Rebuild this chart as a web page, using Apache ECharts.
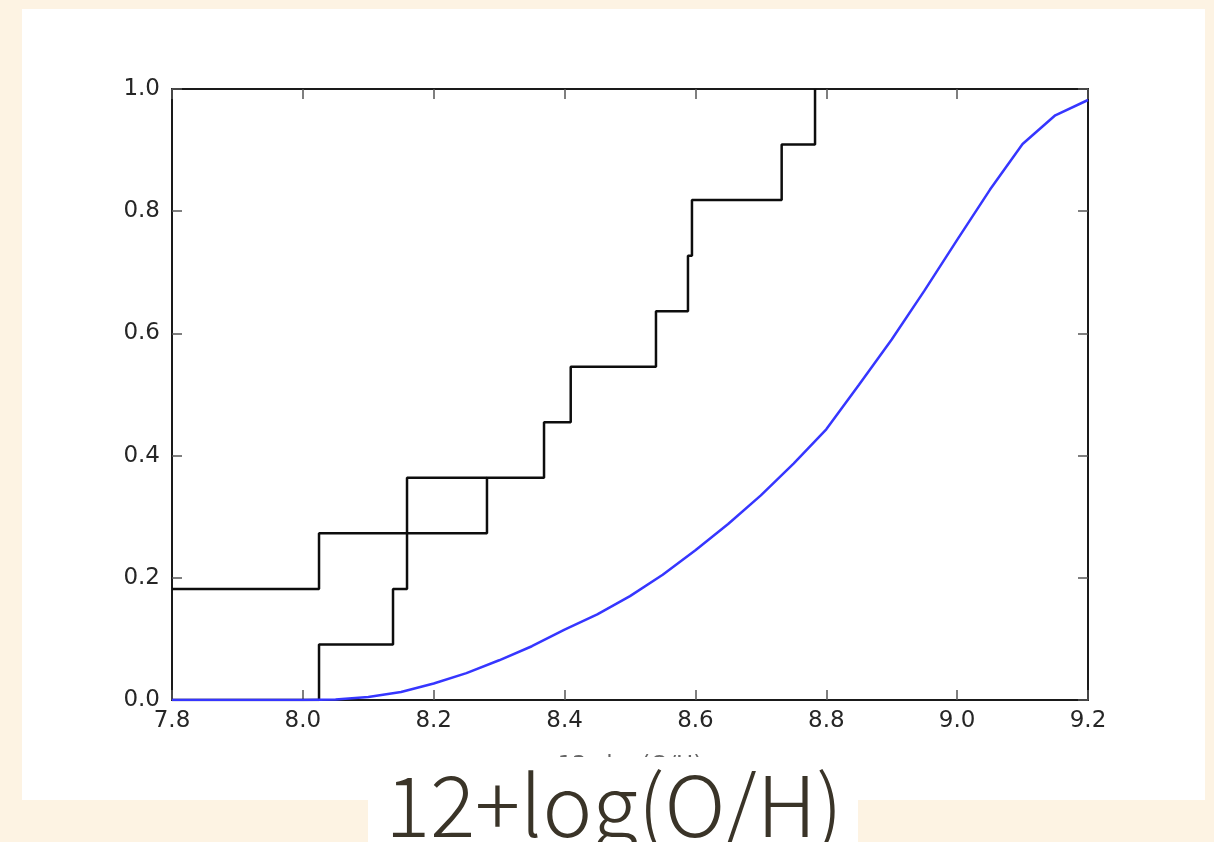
<!DOCTYPE html>
<html>
<head>
<meta charset="utf-8">
<script src="https://cdn.jsdelivr.net/npm/echarts@6/dist/echarts.min.js"></script>
<style>
  html, body { margin: 0; padding: 0; width: 1214px; height: 842px; background: #fdf3e3; overflow: hidden; }
  #panel { position: absolute; left: 22px; top: 9px; width: 1183px; height: 791px; background: #ffffff; }
  #chart { position: absolute; left: 0; top: 0; width: 1214px; height: 842px; }
</style>
</head>
<body>
<div id="panel"></div>
<div id="chart"></div>
<script>
// Step CDF A: x where each step happens, cumulative fraction after the step
const stepAX = [7.8, 8.0247, 8.2814, 8.3686, 8.4094, 8.5397, 8.5886, 8.5947, 8.7318, 8.7828];
const stepAY = [2/11, 3/11, 4/11, 5/11, 6/11, 7/11, 8/11, 9/11, 10/11, 11/11];
// Step CDF B
const stepBX = [7.8, 8.0247, 8.1378, 8.1592, 8.1592, 8.2814];
const stepBY = [0, 1/11, 2/11, 3/11, 4/11, 4/11];
// Smooth model CDF (blue)
const curveX = [7.8, 7.9, 8.0, 8.05, 8.1, 8.15, 8.2, 8.25, 8.3, 8.35, 8.4, 8.45, 8.5, 8.55, 8.6, 8.65, 8.7, 8.75, 8.8, 8.85, 8.9, 8.95, 9.0, 9.05, 9.1, 9.15, 9.2];
const curveY = [0, 0, 0, 0.001, 0.005, 0.013, 0.027, 0.044, 0.065, 0.088, 0.115, 0.14, 0.17, 0.205, 0.245, 0.288, 0.335, 0.387, 0.443, 0.516, 0.59, 0.67, 0.753, 0.835, 0.91, 0.957, 0.982];
const xTickLabels = ['7.8', '8.0', '8.2', '8.4', '8.6', '8.8', '9.0', '9.2'];
const yTickLabels = ['0.0', '0.2', '0.4', '0.6', '0.8', '1.0'];
const xLabel = '12+log(O/H)';

const zip = (xs, ys) => xs.map((x, i) => [x, ys[i]]);
const chart = echarts.init(document.getElementById('chart'), null, { renderer: 'canvas' });

const frameLine = { show: true, onZero: false, lineStyle: { color: '#1a1a1a', width: 2 } };
const tick = { show: true, inside: true, length: 10, lineStyle: { color: '#555', width: 1.5 } };
const lblFont = { fontFamily: 'DejaVu Sans', fontSize: 23, color: '#262626' };

const option = {
  animation: false,
  backgroundColor: 'transparent',
  grid: { left: 172, right: 126, top: 89, bottom: 142, containLabel: false },
  xAxis: [
    {
      type: 'value', position: 'bottom', min: 7.8, max: 9.2, interval: 0.2,
      axisLine: frameLine, axisTick: tick, splitLine: { show: false },
      axisLabel: Object.assign({ margin: 10, formatter: v => xTickLabels[Math.round((v - 7.8) / 0.2)] }, lblFont),
      name: xLabel, nameLocation: 'middle', nameGap: 55,
      nameTextStyle: { fontFamily: 'DejaVu Sans', fontSize: 23, color: '#666' }
    },
    {
      type: 'value', position: 'top', min: 7.8, max: 9.2, interval: 0.2,
      axisLine: frameLine, axisTick: tick, splitLine: { show: false }, axisLabel: { show: false }
    }
  ],
  yAxis: [
    {
      type: 'value', position: 'left', min: 0, max: 1, interval: 0.2,
      axisLine: frameLine, axisTick: tick, splitLine: { show: false },
      axisLabel: Object.assign({ margin: 12, formatter: v => yTickLabels[Math.round(v / 0.2)] }, lblFont)
    },
    {
      type: 'value', position: 'right', min: 0, max: 1, interval: 0.2,
      axisLine: frameLine, axisTick: tick, splitLine: { show: false }, axisLabel: { show: false }
    }
  ],
  series: [
    {
      type: 'line', step: 'end', data: zip(stepAX, stepAY), showSymbol: false, symbol: 'none',
      lineStyle: { color: '#0d0d0d', width: 2.5 }, z: 3
    },
    {
      type: 'line', step: 'end', data: zip(stepBX, stepBY), showSymbol: false, symbol: 'none',
      lineStyle: { color: '#0d0d0d', width: 2.5 }, z: 3
    },
    {
      type: 'line', data: zip(curveX, curveY), showSymbol: false, symbol: 'none',
      lineStyle: { color: '#3636ff', width: 2.5 }, z: 4
    }
  ],
  graphic: {
    elements: [
      { type: 'rect', z: 100, shape: { x: 368, y: 757, width: 490, height: 90 }, style: { fill: '#ffffff' } },
      { type: 'text', z: 101, x: 614, y: 805,
        style: { text: xLabel, font: '300 84px "Noto Sans CJK JP", "Noto Sans", sans-serif', fill: '#3a3428', textAlign: 'center', textVerticalAlign: 'middle' } }
    ]
  }
};
chart.setOption(option);
</script>
</body>
</html>
